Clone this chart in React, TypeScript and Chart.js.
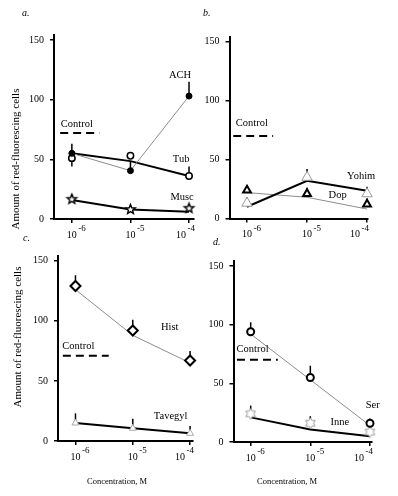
import React, { useEffect, useRef } from "react";
import { Chart, registerables } from "chart.js";

Chart.register(...registerables);

const FONT = "'Liberation Serif', 'Times New Roman', serif";

// log10 of the molar concentration
const concentrations = [-6, -5, -4];
const xTickExponents = ["-6", "-5", "-4"];
const yTickValues = [0, 50, 100, 150];

// panel a
const achValues = [55, 40.5, 103];
const achErr = [8, 8, 12];
const tubValues = [51, 53, 36];
const tubErr = [-7, 3, 8];
const tubFit = [55, 48.5, 36];
const muscValues = [16.5, 8, 9];
const muscErr = [4, 2, 3];
const muscFit = [16, 8, 6];
const controlA = 72;

// panel b
const yohimValues = [13, 35, 21];
const yohimErr = [5, 7, 6];
const yohimFit = [10, 32, 23.5];
const dopValues = [24, 21, 12];
const dopErr = [3, 5, 5];
const dopFit = [22, 18, 8];
const controlB = 70;

// panel c
const histValues = [129, 92, 67];
const histErr = [9, 9, 8];
const histFit = [126, 88, 65];
const tavegylValues = [15, 10.6, 6.4];
const tavegylErr = [8, 8, 6];
const tavegylFit = [15, 10.6, 6.4];
const controlC = 71;

// panel d
const serValues = [94, 55, 16];
const serErr = [8, 10, 4];
const serFit = [92, 53, 14];
const inneValues = [24, 16, 8.5];
const inneErr = [7, 6, 0];
const inneFit = [21, 10.6, 5];
const controlD = 70;

type Marker = { style: any; radius: number; fill: string; stroke: string; width: number };
type Series = {
  name: string;
  values: number[];
  err: number[];
  fit: number[];
  thick: boolean;
  label: [number, number];
  marker: Marker;
};
type Panel = {
  letter: string;
  letterPos: [number, number];
  box: { left: number; top: number; width: number; height: number };
  area: { left: number; top: number; right: number; bottom: number };
  xRange: [number, number];
  yTitle?: [number, number];
  xTitle?: [number, number];
  control: number;
  controlSpan: [number, number];
  controlLabel: [number, number];
  series: Series[];
};

function makeStar(points: number, outerR: number, innerR: number, stroke: string, lw: number) {
  const size = Math.ceil(outerR * 2 + lw * 2 + 2);
  const c = document.createElement("canvas");
  c.width = size;
  c.height = size;
  const ctx = c.getContext("2d")!;
  ctx.translate(size / 2, size / 2);
  ctx.beginPath();
  for (let i = 0; i < points * 2; i++) {
    const a = -Math.PI / 2 + (i * Math.PI) / points;
    const r = i % 2 ? innerR : outerR;
    const px = Math.cos(a) * r;
    const py = Math.sin(a) * r;
    if (i === 0) ctx.moveTo(px, py);
    else ctx.lineTo(px, py);
  }
  ctx.closePath();
  ctx.fillStyle = "#fff";
  ctx.fill();
  ctx.strokeStyle = stroke;
  ctx.lineWidth = lw;
  ctx.stroke();
  return c;
}

function buildPanels(): Panel[] {
  const star5 = makeStar(5, 5, 2.2, "#000", 1.4);
  const star6 = makeStar(6, 5.5, 3.2, "#999", 1);
  return [
    {
      letter: "a.",
      letterPos: [22, 13],
      box: { left: 0, top: 0, width: 200, height: 250 },
      area: { left: 54, top: 35.2, right: 195, bottom: 219 },
      xRange: [-6.305, -3.915],
      yTitle: [16, 159],
      control: controlA,
      controlSpan: [-6.2, -5.53],
      controlLabel: [-5.915, 79.6],
      series: [
        { name: "ACH", values: achValues, err: achErr, fit: achValues, thick: false, label: [-4.152, 120.7],
          marker: { style: "circle", radius: 3, fill: "#000", stroke: "#000", width: 1 } },
        { name: "Tub", values: tubValues, err: tubErr, fit: tubFit, thick: true, label: [-4.135, 50.3],
          marker: { style: "circle", radius: 3.2, fill: "#fff", stroke: "#000", width: 1.5 } },
        { name: "Musc", values: muscValues, err: muscErr, fit: muscFit, thick: true, label: [-4.118, 18.4],
          marker: { style: star5, radius: 5, fill: "#fff", stroke: "#000", width: 1 } },
      ],
    },
    {
      letter: "b.",
      letterPos: [5, 13],
      box: { left: 198, top: 0, width: 200, height: 250 },
      area: { left: 31.5, top: 37, right: 170, bottom: 218.5 },
      xRange: [-6.292, -3.984],
      control: controlB,
      controlSpan: [-6.23, -5.565],
      controlLabel: [-5.92, 80.8],
      series: [
        { name: "Yohim", values: yohimValues, err: yohimErr, fit: yohimFit, thick: true, label: [-4.098, 35.9],
          marker: { style: "triangle", radius: 6, fill: "#fff", stroke: "#9a9a9a", width: 1 } },
        { name: "Dop", values: dopValues, err: dopErr, fit: dopFit, thick: false, label: [-4.49, 19.8],
          marker: { style: "triangle", radius: 4.5, fill: "#fff", stroke: "#000", width: 2 } },
      ],
    },
    {
      letter: "c.",
      letterPos: [23, 10],
      box: { left: 0, top: 228, width: 200, height: 268 },
      area: { left: 58, top: 28, right: 197, bottom: 213 },
      xRange: [-6.305, -3.949],
      yTitle: [18, 109],
      xTitle: [117, 254],
      control: controlC,
      controlSpan: [-6.22, -5.42],
      controlLabel: [-5.949, 79.2],
      series: [
        { name: "Hist", values: histValues, err: histErr, fit: histFit, thick: false, label: [-4.356, 95],
          marker: { style: "rectRot", radius: 5, fill: "#fff", stroke: "#000", width: 2 } },
        { name: "Tavegyl", values: tavegylValues, err: tavegylErr, fit: tavegylFit, thick: true, label: [-4.339, 20.25],
          marker: { style: "triangle", radius: 4, fill: "#fff", stroke: "#aaa", width: 1 } },
      ],
    },
    {
      letter: "d.",
      letterPos: [15, 14],
      box: { left: 198, top: 228, width: 200, height: 268 },
      area: { left: 35.5, top: 33.3, right: 174, bottom: 214 },
      xRange: [-6.288, -3.966],
      xTitle: [89, 254],
      control: controlD,
      controlSpan: [-6.23, -5.545],
      controlLabel: [-5.968, 79],
      series: [
        { name: "Ser", values: serValues, err: serErr, fit: serFit, thick: false, label: [-3.953, 30.9],
          marker: { style: "circle", radius: 3.5, fill: "#fff", stroke: "#000", width: 2 } },
        { name: "Inne", values: inneValues, err: inneErr, fit: inneFit, thick: true, label: [-4.506, 16.5],
          marker: { style: star6, radius: 5, fill: "#fff", stroke: "#999", width: 1 } },
      ],
    },
  ];
}

function decorPlugin(p: Panel) {
  return {
    id: "panelDecor",
    beforeDatasetsDraw(chart: any) {
      const ctx = chart.ctx;
      const ys = chart.scales.y;
      ctx.save();
      ctx.strokeStyle = "#000";
      ctx.lineWidth = 1.5;
      p.series.forEach((s, si) => {
        const meta = chart.getDatasetMeta(si);
        s.values.forEach((v, i) => {
          const e = s.err[i];
          if (!e) return;
          const el = meta.data[i];
          const y2 = ys.getPixelForValue(v + e);
          ctx.beginPath();
          ctx.moveTo(el.x, el.y);
          ctx.lineTo(el.x, y2);
          ctx.stroke();
        });
      });
      ctx.restore();
    },
    afterDraw(chart: any) {
      const ctx = chart.ctx;
      const xs = chart.scales.x;
      const ys = chart.scales.y;
      const area = chart.chartArea;
      ctx.save();
      ctx.fillStyle = "#000";
      ctx.textBaseline = "middle";

      // x tick labels: 10 with raised exponent
      concentrations.forEach((c, i) => {
        const px = xs.getPixelForValue(c);
        ctx.font = `10px ${FONT}`;
        const wBase = ctx.measureText("10").width;
        ctx.font = `9px ${FONT}`;
        const exp = xTickExponents[i];
        const wExp = ctx.measureText(exp).width;
        let left = px - wBase / 2;
        const maxRight = area.right + 1;
        if (left + wBase + 1.5 + wExp > maxRight) left = maxRight - (wBase + 1.5 + wExp);
        ctx.textAlign = "left";
        ctx.font = `10px ${FONT}`;
        ctx.fillText("10", left, area.bottom + 16);
        ctx.font = `9px ${FONT}`;
        ctx.fillText(exp, left + wBase + 1.5, area.bottom + 10);
      });

      // panel letter
      ctx.font = `italic 10px ${FONT}`;
      ctx.textAlign = "left";
      ctx.fillText(p.letter, p.letterPos[0], p.letterPos[1]);

      // axis titles
      if (p.yTitle) {
        ctx.save();
        ctx.translate(p.yTitle[0], p.yTitle[1]);
        ctx.rotate(-Math.PI / 2);
        ctx.font = `11px ${FONT}`;
        ctx.textAlign = "center";
        ctx.fillText("Amount of red-fluorescing cells", 0, 0);
        ctx.restore();
      }
      if (p.xTitle) {
        ctx.font = `8.5px ${FONT}`;
        ctx.textAlign = "center";
        ctx.fillText("Concentration, M", p.xTitle[0], p.xTitle[1]);
      }

      // in-plot labels
      ctx.font = `10.5px ${FONT}`;
      ctx.textAlign = "center";
      ctx.fillText("Control", xs.getPixelForValue(p.controlLabel[0]), ys.getPixelForValue(p.controlLabel[1]));
      p.series.forEach((s) => {
        ctx.fillText(s.name, xs.getPixelForValue(s.label[0]), ys.getPixelForValue(s.label[1]));
      });
      ctx.restore();
    },
  };
}

function PanelChart({ panel }: { panel: Panel }) {
  const ref = useRef<HTMLCanvasElement>(null);
  useEffect(() => {
    const p = panel;
    const pointSets = p.series.map((s) => ({
      label: s.name,
      data: concentrations.map((x, i) => ({ x, y: s.values[i] })),
      showLine: false,
      pointStyle: s.marker.style,
      pointRadius: s.marker.radius,
      pointBackgroundColor: s.marker.fill,
      pointBorderColor: s.marker.stroke,
      pointBorderWidth: s.marker.width,
      clip: false,
    }));
    const fitSets = p.series.map((s) => ({
      label: s.name + " fit",
      data: concentrations.map((x, i) => ({ x, y: s.fit[i] })),
      showLine: true,
      borderColor: s.thick ? "#000" : "#8c8c8c",
      borderWidth: s.thick ? 2 : 1,
      pointRadius: 0,
      tension: 0,
      clip: false,
    }));
    const controlSet = {
      label: "Control",
      data: [
        { x: p.controlSpan[0], y: p.control },
        { x: p.controlSpan[1], y: p.control },
      ],
      showLine: true,
      borderColor: "#000",
      borderWidth: 2,
      borderDash: [8, 5],
      pointRadius: 0,
      clip: false,
    };
    const chart = new Chart(ref.current!, {
      type: "scatter",
      data: { datasets: [...pointSets, ...fitSets, controlSet] as any },
      plugins: [decorPlugin(p) as any],
      options: {
        responsive: false,
        animation: false,
        events: [],
        layout: {
          padding: { left: 0, top: p.area.top, right: p.box.width - p.area.right, bottom: 0 },
        },
        plugins: { legend: { display: false }, tooltip: { enabled: false } },
        scales: {
          x: {
            type: "linear",
            min: p.xRange[0],
            max: p.xRange[1],
            afterBuildTicks: (s: any) => {
              s.ticks = concentrations.map((v) => ({ value: v }));
            },
            afterFit: (s: any) => {
              s.height = p.box.height - p.area.bottom;
            },
            ticks: { display: false },
            grid: { drawOnChartArea: false, drawTicks: true, tickLength: 4, color: "#000", lineWidth: 1.5 },
            border: { display: true, color: "#000", width: 2 },
          },
          y: {
            type: "linear",
            min: 0,
            max: 154,
            afterBuildTicks: (s: any) => {
              s.ticks = yTickValues.map((v) => ({ value: v }));
            },
            afterFit: (s: any) => {
              s.width = p.area.left;
            },
            ticks: { color: "#000", font: { family: FONT, size: 10 }, padding: 6 },
            grid: { drawOnChartArea: false, drawTicks: true, tickLength: 4, color: "#000", lineWidth: 1.5 },
            border: { display: true, color: "#000", width: 2 },
          },
        },
      } as any,
    });
    return () => chart.destroy();
  }, [panel]);
  const b = panel.box;
  return (
    <canvas
      ref={ref}
      width={b.width}
      height={b.height}
      style={{ position: "absolute", left: b.left, top: b.top, width: b.width, height: b.height }}
    />
  );
}

export default function App() {
  const [panels, setPanels] = React.useState<Panel[] | null>(null);
  useEffect(() => {
    setPanels(buildPanels());
  }, []);
  return (
    <div style={{ position: "absolute", left: 0, top: 0, width: 398, height: 496, background: "#fff", overflow: "hidden" }}>
      {panels && panels.map((p) => <PanelChart key={p.letter} panel={p} />)}
    </div>
  );
}
